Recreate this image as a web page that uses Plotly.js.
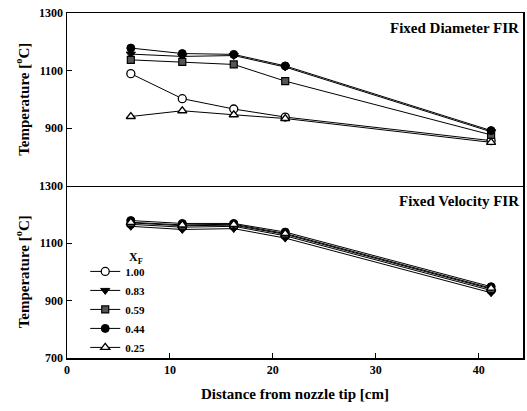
<!DOCTYPE html>
<html>
<head>
<meta charset="utf-8">
<script src="https://cdn.plot.ly/plotly-3.0.1.min.js"></script>
<style>html,body{margin:0;padding:0;background:#fff;}#chart{width:527px;height:411px;}</style>
</head>
<body>
<div id="chart"></div>
<script>
// Distance from nozzle tip [cm]
const distance = [6.2, 11.2, 16.2, 21.2, 41.2];
const seriesNames = ['1.00', '0.83', '0.59', '0.44', '0.25'];

// Fixed Diameter FIR (top panel), Temperature [°C]
const fd_100 = [1089, 1002, 966, 938, 856];
const fd_083 = [1157, 1149, 1152, 1112, 887];
const fd_059 = [1137, 1130, 1121, 1063, 876];
const fd_044 = [1178, 1159, 1156, 1116, 891];
const fd_025 = [940, 960, 946, 933, 850];

// Fixed Velocity FIR (bottom panel), Temperature [°C]
const fv_100 = [1165, 1155, 1158, 1125, 935];
const fv_083 = [1158, 1147, 1150, 1117, 927];
const fv_059 = [1170, 1160, 1162, 1130, 940];
const fv_044 = [1178, 1168, 1168, 1138, 948];
const fv_025 = [1172, 1163, 1165, 1133, 943];

const topTicks = [900, 1100, 1300];
const bottomTicks = [700, 900, 1100, 1300];
const xTicks = [0, 10, 20, 30, 40];

const markerStyles = [
  {symbol: 'circle', color: '#ffffff', line: {color: '#000', width: 1.3}, size: 8},
  {symbol: 'triangle-down', color: '#000', line: {color: '#000', width: 1}, size: 8},
  {symbol: 'square', color: '#555', line: {color: '#000', width: 1.2}, size: 7},
  {symbol: 'circle', color: '#000', line: {color: '#000', width: 1}, size: 8},
  {symbol: 'triangle-up', color: '#ffffff', line: {color: '#000', width: 1.3}, size: 8}
];

const topData = [fd_100, fd_083, fd_059, fd_044, fd_025];
const bottomData = [fv_100, fv_083, fv_059, fv_044, fv_025];

const traces = [];
topData.forEach((ys, i) => {
  traces.push({
    x: distance, y: ys, xaxis: 'x2', yaxis: 'y', type: 'scatter', mode: 'lines+markers',
    name: seriesNames[i], showlegend: false,
    line: {color: '#000', width: 1},
    marker: markerStyles[i]
  });
});
bottomData.forEach((ys, i) => {
  traces.push({
    x: distance, y: ys, xaxis: 'x', yaxis: 'y2', type: 'scatter', mode: 'lines+markers',
    name: seriesNames[i], showlegend: true,
    line: {color: '#000', width: 1},
    marker: markerStyles[i]
  });
});

const serif = 'Liberation Serif, Times New Roman, serif';
const tickFont = {family: serif, size: 12, color: '#000', weight: 'bold'};
const titleFont = {family: serif, size: 15, color: '#000', weight: 'bold'};
const yTitleFont = {family: serif, size: 15, color: '#000', weight: 'bold'};

const layout = {
  width: 527, height: 411,
  margin: {l: 67, r: 4, t: 13, b: 53},
  paper_bgcolor: '#fff', plot_bgcolor: '#fff',
  showlegend: true,
  legend: {
    x: 0.04, y: 0.293, xanchor: 'left', yanchor: 'top',
    font: {family: serif, size: 11, color: '#000', weight: 'bold'},
    bgcolor: 'rgba(0,0,0,0)', borderwidth: 0, tracegroupgap: 0
  },
  xaxis: {
    domain: [0, 1], anchor: 'y2', range: [0, 44.3],
    tickvals: xTicks, ticktext: xTicks.map(String),
    ticks: 'inside', ticklen: 5, tickcolor: '#000', tickfont: tickFont,
    showline: true, linecolor: '#000', linewidth: 1.5, mirror: false,
    showgrid: false, zeroline: false,
    title: {text: 'Distance from nozzle tip [cm]', font: titleFont, standoff: 12}
  },
  xaxis2: {
    domain: [0, 1], anchor: 'y', range: [0, 44.3], matches: 'x',
    tickvals: xTicks, showticklabels: false, ticks: '',
    showline: true, linecolor: '#000', linewidth: 1, mirror: true,
    showgrid: false, zeroline: false
  },
  yaxis: {
    domain: [0.5, 1], anchor: 'x2', range: [700, 1300],
    tickvals: topTicks, ticktext: topTicks.map(String),
    ticks: 'inside', ticklen: 5, tickcolor: '#000', tickfont: tickFont,
    showline: true, linecolor: '#000', linewidth: 1.5, mirror: true,
    showgrid: false, zeroline: false,
    title: {text: 'Temperature [<sup>o</sup>C]', font: yTitleFont, standoff: 6}
  },
  yaxis2: {
    domain: [0, 0.5], anchor: 'x', range: [700, 1300],
    tickvals: bottomTicks, ticktext: bottomTicks.map(String),
    ticks: 'inside', ticklen: 5, tickcolor: '#000', tickfont: tickFont,
    showline: true, linecolor: '#000', linewidth: 1.5, mirror: true,
    showgrid: false, zeroline: false,
    title: {text: 'Temperature [<sup>o</sup>C]', font: yTitleFont, standoff: 6}
  },
  annotations: [
    {text: 'Fixed Diameter FIR', xref: 'paper', yref: 'paper', x: 0.995, y: 0.985,
     xanchor: 'right', yanchor: 'top', showarrow: false, font: titleFont},
    {text: 'Fixed Velocity FIR', xref: 'paper', yref: 'paper', x: 0.995, y: 0.485,
     xanchor: 'right', yanchor: 'top', showarrow: false, font: titleFont},
    {text: 'X<sub>F</sub>', xref: 'paper', yref: 'paper', x: 0.152, y: 0.29,
     xanchor: 'center', yanchor: 'middle', showarrow: false,
     font: {family: serif, size: 12, color: '#000', weight: 'bold'}}
  ]
};

Plotly.newPlot('chart', traces, layout, {displayModeBar: false, staticPlot: true});
</script>
</body>
</html>
